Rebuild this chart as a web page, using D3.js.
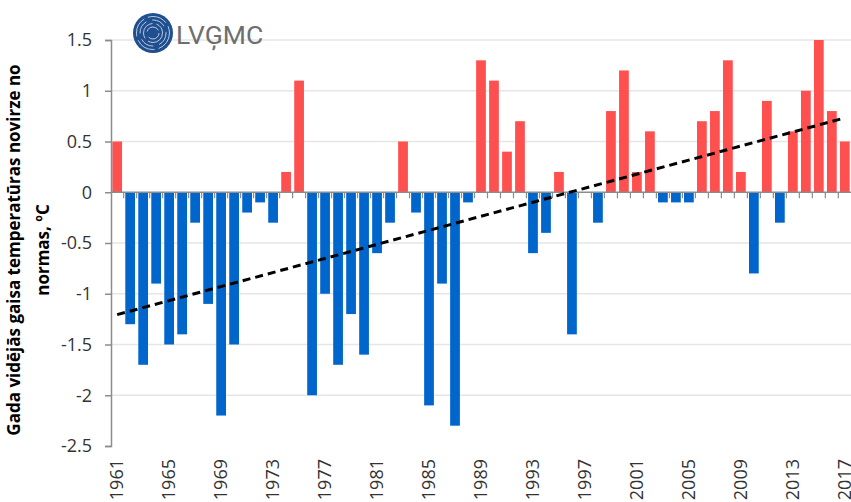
<!DOCTYPE html>
<html>
<head>
<meta charset="utf-8">
<script src="https://cdn.jsdelivr.net/npm/d3@7"></script>
<style>
  html, body { margin: 0; padding: 0; background: #fff; }
  svg { display: block; }
</style>
</head>
<body>
<script>
// years 1961..2017
const firstYear = 1961;
const anomalies = [
  0.5, -1.3, -1.7, -0.9, -1.5, -1.4, -0.3, -1.1, -2.2, -1.5,
  -0.2, -0.1, -0.3, 0.2, 1.1, -2.0, -1.0, -1.7, -1.2, -1.6,
  -0.6, -0.3, 0.5, -0.2, -2.1, -0.9, -2.3, -0.1, 1.3, 1.1,
  0.4, 0.7, -0.6, -0.4, 0.2, -1.4, 0, -0.3, 0.8, 1.2,
  0.2, 0.6, -0.1, -0.1, -0.1, 0.7, 0.8, 1.3, 0.2, -0.8,
  0.9, -0.3, 0.6, 1.0, 1.5, 0.8, 0.5
];
const years = anomalies.map((v, i) => firstYear + i);
const yTicks = [-2.5, -2, -1.5, -1, -0.5, 0, 0.5, 1, 1.5];
const xLabelYears = years.filter(y => (y - firstYear) % 4 === 0);
const yTitle = ["Gada vidējās gaisa temperatūras novirze no", "normas, ºC"];

(function(){
  const width = 851, height = 502;
  const mLeft = 111, mRight = 851, mTop = 40, mBottom = 446;

  const svg = d3.select("body").append("svg")
      .attr("width", width)
      .attr("height", height)
      .attr("font-family", "'Open Sans', sans-serif");

  const x = d3.scaleBand()
      .domain(years)
      .range([mLeft, mRight])
      .paddingInner(0.25)
      .paddingOuter(0.1);

  const y = d3.scaleLinear()
      .domain([-2.5, 1.5])
      .range([mBottom, mTop]);

  // gridlines
  svg.append("g")
    .selectAll("line")
    .data(yTicks.filter(d => d !== 0 && d !== -2.5))
    .join("line")
      .attr("x1", mLeft).attr("x2", mRight)
      .attr("y1", d => y(d)).attr("y2", d => y(d))
      .attr("stroke", "#e6e6e6")
      .attr("stroke-width", 1.5);

  // bars
  svg.append("g")
    .selectAll("rect")
    .data(years.map((yr, i) => ({ yr, v: anomalies[i] })))
    .join("rect")
      .attr("x", d => x(d.yr))
      .attr("width", x.bandwidth())
      .attr("y", d => y(Math.max(0, d.v)))
      .attr("height", d => Math.abs(y(d.v) - y(0)))
      .attr("fill", d => d.v > 0 ? "#ff5050" : "#0066cc");

  // zero line with category ticks
  const step = x.step();
  const zero = svg.append("g").attr("stroke", "#8c8c8c");
  zero.append("line")
      .attr("x1", mLeft).attr("x2", mRight)
      .attr("y1", y(0)).attr("y2", y(0))
      .attr("stroke-width", 1.5);
  zero.selectAll("line.tick")
    .data(years.slice(1))
    .join("line")
      .attr("class", "tick")
      .attr("x1", d => x(d) - step * 0.125)
      .attr("x2", d => x(d) - step * 0.125)
      .attr("y1", y(0))
      .attr("y2", y(0) + 6)
      .attr("stroke-width", 1.2);

  // y axis
  const yAxis = svg.append("g")
      .attr("transform", `translate(${mLeft},0)`)
      .call(d3.axisLeft(y).tickValues(yTicks).tickSize(6).tickPadding(13).tickFormat(d => String(d)));
  yAxis.select(".domain").attr("stroke", "#8c8c8c").attr("stroke-width", 1.5);
  yAxis.selectAll(".tick line").attr("stroke", "#8c8c8c").attr("stroke-width", 1.5);
  yAxis.selectAll("text")
      .attr("fill", "#333")
      .attr("font-size", 18)
      .attr("font-family", "'Open Sans', sans-serif");

  // x labels
  const xAxis = svg.append("g")
      .attr("transform", `translate(0,${mBottom})`)
      .call(d3.axisBottom(x).tickValues(xLabelYears).tickSize(0));
  xAxis.select(".domain").remove();
  xAxis.selectAll("text")
      .attr("transform", "rotate(-90)")
      .attr("x", -13)
      .attr("y", 0)
      .attr("dy", "0.35em")
      .attr("text-anchor", "end")
      .attr("fill", "#333")
      .attr("font-size", 18)
      .attr("font-family", "'Open Sans', sans-serif");

  // linear trend
  const n = years.length;
  const mx = d3.mean(years), my = d3.mean(anomalies);
  const slope = d3.sum(years, (v, i) => (v - mx) * (anomalies[i] - my)) / d3.sum(years, v => (v - mx) ** 2);
  const icpt = my - slope * mx;
  svg.append("path")
      .datum([years[0], years[n - 1]])
      .attr("d", d3.line()
          .x(d => x(d) + x.bandwidth() / 2)
          .y(d => y(icpt + slope * d)))
      .attr("fill", "none")
      .attr("stroke", "#000")
      .attr("stroke-width", 3)
      .attr("stroke-dasharray", "8,5");

  // y title
  const title = svg.append("text")
      .attr("transform", "translate(0,250) rotate(-90)")
      .attr("text-anchor", "middle")
      .attr("font-weight", "bold")
      .attr("font-size", 17)
      .attr("fill", "#000");
  title.selectAll("tspan")
    .data(yTitle)
    .join("tspan")
      .attr("x", 0)
      .attr("y", (d, i) => 20 + i * 29)
      .text(d => d);

  // logo
  const logo = svg.append("g").attr("transform", "translate(153,33)");
  logo.append("circle").attr("r", 20).attr("fill", "#1f4f8f");
  [6, 9.5, 13, 16.5].forEach((r, i) => {
    logo.append("circle")
        .attr("r", r)
        .attr("fill", "none")
        .attr("stroke", "#c9d6ea")
        .attr("stroke-width", 0.9)
        .attr("stroke-dasharray", i % 2 ? "20,4" : "14,6");
  });
  svg.append("text")
      .attr("x", 176)
      .attr("y", 44)
      .attr("font-size", 26.5)
      .attr("font-family", "Roboto, sans-serif")
      .attr("fill", "#6d6e70")
      .text("LVĢMC");
})();
</script>
</body>
</html>
